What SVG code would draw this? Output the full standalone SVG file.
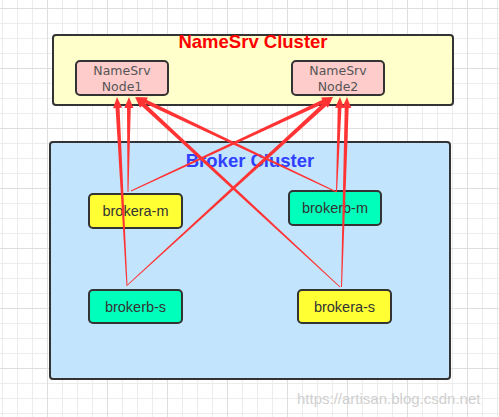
<svg xmlns="http://www.w3.org/2000/svg" width="499" height="417" viewBox="0 0 499 417">
<defs>
<pattern id="grid" x="-13" y="8" width="60" height="60" patternUnits="userSpaceOnUse">
<rect x="0" y="0" width="60" height="60" fill="#ffffff"/>
<rect x="15" y="0" width="1" height="60" fill="#ececec"/>
<rect x="30" y="0" width="1" height="60" fill="#ececec"/>
<rect x="45" y="0" width="1" height="60" fill="#ececec"/>
<rect x="0" y="15" width="60" height="1" fill="#ececec"/>
<rect x="0" y="30" width="60" height="1" fill="#ececec"/>
<rect x="0" y="45" width="60" height="1" fill="#ececec"/>
<rect x="0" y="0" width="1" height="60" fill="#dedede"/>
<rect x="0" y="0" width="60" height="1" fill="#dedede"/>
</pattern>
</defs>
<style>
.cluster{stroke:#333333;stroke-width:2}
.node rect{stroke:#333333;stroke-width:2}
.title{font-family:"Liberation Sans",Arial,sans-serif;font-size:18.5px;font-weight:bold;text-anchor:middle}
.ntext{font-family:"DejaVu Sans",sans-serif;font-size:12.5px;fill:#555555;text-anchor:middle}
.btext{font-family:"Liberation Sans",Arial,sans-serif;font-size:14.5px;fill:#333333;text-anchor:middle}
.conn polygon{fill:#ff3333}
</style>
<rect x="0" y="0" width="499" height="417" fill="url(#grid)"/>

<g id="namesrv-cluster">
<rect class="cluster" x="53" y="35" width="400" height="70" rx="3" fill="#ffffcc"/>
<text class="title" x="253" y="48" fill="#ff0000">NameSrv Cluster</text>
</g>

<g id="broker-cluster">
<rect class="cluster" x="50" y="142" width="400" height="237" rx="3" fill="#c2e4fc"/>
<text class="title" x="250" y="167" fill="#3040ff">Broker Cluster</text>
</g>

<g id="node1" class="node">
<rect x="76" y="61" width="92" height="34" rx="4" fill="#ffcccc"/>
<text class="ntext" x="122" y="75">NameSrv</text>
<text class="ntext" x="122" y="91">Node1</text>
</g>

<g id="node2" class="node">
<rect x="292" y="61" width="92" height="34" rx="4" fill="#ffcccc"/>
<text class="ntext" x="338" y="75">NameSrv</text>
<text class="ntext" x="338" y="91">Node2</text>
</g>

<g id="brokera-m" class="node">
<rect x="89" y="194" width="93" height="34" rx="4" fill="#ffff33"/>
<text class="btext" x="135.5" y="216">brokera-m</text>
</g>

<g id="brokerb-m" class="node">
<rect x="289" y="191" width="92" height="34" rx="4" fill="#00ffbb"/>
<text class="btext" x="335" y="213">brokerb-m</text>
</g>

<g id="brokerb-s" class="node">
<rect x="89" y="290" width="93" height="33" rx="4" fill="#00ffbb"/>
<text class="btext" x="135.5" y="312">brokerb-s</text>
</g>

<g id="brokera-s" class="node">
<rect x="298" y="290" width="93" height="33" rx="4" fill="#ffff33"/>
<text class="btext" x="344.5" y="312">brokera-s</text>
</g>

<g id="connectors" class="conn">
<g transform="translate(128,192) rotate(-89.397)"><polygon points="0,-0.5 86,-1.9 86,1.9 0,0.5"/><polygon points="95,0 84,-4.5 84,4.5"/></g>
<g transform="translate(131,191) rotate(-24.95)"><polygon points="0,-0.5 214,-2 214,2 0,0.5"/><polygon points="222.8,0 211.8,-4.5 211.8,4.5"/></g>
<g transform="translate(336.5,192) rotate(-154.64)"><polygon points="0,-0.5 213,-2 213,2 0,0.5"/><polygon points="221.9,0 210.9,-4.5 210.9,4.5"/></g>
<g transform="translate(336.5,192) rotate(-87.89)"><polygon points="0,-0.5 86,-1.9 86,1.9 0,0.5"/><polygon points="95.1,0 84.1,-4.5 84.1,4.5"/></g>
<g transform="translate(127,286) rotate(-93.03)"><polygon points="0,-0.5 180,-2 180,2 0,0.5"/><polygon points="189.3,0 178.3,-4.5 178.3,4.5"/></g>
<g transform="translate(127.5,285) rotate(-42.46)"><polygon points="0,-0.5 269,-2.1 269,2.1 0,0.5"/><polygon points="278.5,0 267.5,-4.5 267.5,4.5"/></g>
<g transform="translate(340,287) rotate(-137.17)"><polygon points="0,-0.5 270,-2.1 270,2.1 0,0.5"/><polygon points="279.5,0 268.5,-4.5 268.5,4.5"/></g>
<g transform="translate(341.5,287) rotate(-88.34)"><polygon points="0,-0.5 181,-2 181,2 0,0.5"/><polygon points="190.1,0 179.1,-4.5 179.1,4.5"/></g>
</g>

<text x="297" y="404" font-family="Liberation Sans,Arial,sans-serif" font-size="15" fill="#d0d0d0">https://artisan.blog.csdn.net</text>
</svg>
